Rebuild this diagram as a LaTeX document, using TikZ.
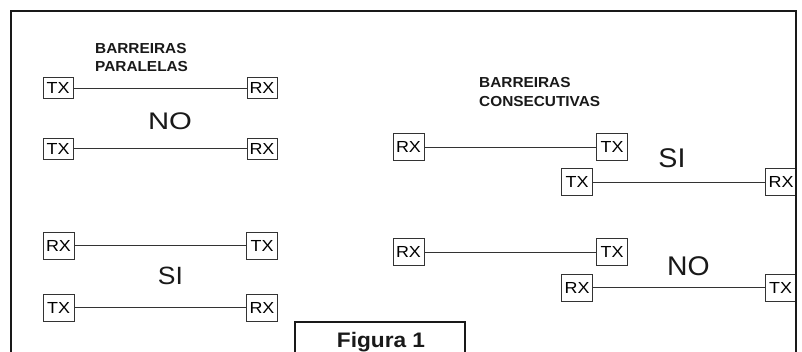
\documentclass[tikz,border=0pt]{standalone}
\usepackage{fontspec}
\setmainfont{Liberation Sans}
\usepackage{graphicx}
\newcommand{\widen}[2]{\scalebox{#1}[1]{#2}}
\begin{document}
\begin{tikzpicture}[x=1pt,y=-1pt,
  unit/.style={draw=black!80,line width=0.8pt,inner sep=0pt,minimum width=31pt,minimum height=27pt,
    font=\fontsize{16}{16}\selectfont,fill=white},
  unitsm/.style={unit,minimum width=30pt,minimum height=21pt},
  wire/.style={draw=black!80,line width=0.8pt},
  frame/.style={draw=black!90,line width=2.8pt},
  head/.style={anchor=base west,inner sep=0pt,font=\fontsize{14.5}{14.5}\selectfont\bfseries,text=black!90},
  verdict/.style={anchor=base,inner sep=0pt,text=black!90}]
\useasboundingbox (0,0) rectangle (802,351);
% frame
\coordinate (fbl) at (11,352);
\coordinate (ftl) at (11,11);
\coordinate (ftr) at (796,11);
\coordinate (fbr) at (796,352);
% headings
\node[head] (h1) at (95,53) {\widen{1.06}{BARREIRAS}};
\node[head] (h2) at (95,71) {\widen{1.06}{PARALELAS}};
\node[head] (h3) at (479,87) {\widen{1.06}{BARREIRAS}};
\node[head] (h4) at (479,106) {\widen{1.06}{CONSECUTIVAS}};
% top-left pair
\node[unitsm] (a1) at (58,88) {\widen{1.12}{TX}};
\node[unitsm] (a2) at (262,88) {\widen{1.12}{RX}};
\node[unitsm] (a3) at (58,148.5) {\widen{1.12}{TX}};
\node[unitsm] (a4) at (262,148.5) {\widen{1.12}{RX}};
\draw[wire] (a1) -- (a2);
\draw[wire] (a3) -- (a4);
\node[verdict,font=\fontsize{24}{24}\selectfont] (v1) at (170,129) {\widen{1.22}{NO}};
% bottom-left pair
\node[unit] (b1) at (58.5,245.5) {\widen{1.12}{RX}};
\node[unit] (b2) at (262,245.5) {\widen{1.12}{TX}};
\node[unit] (b3) at (58.5,307.5) {\widen{1.12}{TX}};
\node[unit] (b4) at (262,307.5) {\widen{1.12}{RX}};
\draw[wire] (b1) -- (b2);
\draw[wire] (b3) -- (b4);
\node[verdict,font=\fontsize{25}{25}\selectfont] (v2) at (170.5,284) {\widen{1.06}{SI}};
% top-right pair
\node[unit] (c1) at (408.5,147) {\widen{1.12}{RX}};
\node[unit] (c2) at (612,147) {\widen{1.12}{TX}};
\node[unit] (c3) at (577,182) {\widen{1.12}{TX}};
\node[unit] (c4) at (781,182) {\widen{1.12}{RX}};
\draw[wire] (c1) -- (c2);
\draw[wire] (c3) -- (c4);
\node[verdict,font=\fontsize{27}{27}\selectfont] (v3) at (672,167) {\widen{1.06}{SI}};
% bottom-right pair
\node[unit] (d1) at (408.5,252) {\widen{1.12}{RX}};
\node[unit] (d2) at (612,252) {\widen{1.12}{TX}};
\node[unit] (d3) at (577,287.5) {\widen{1.12}{RX}};
\node[unit] (d4) at (780.5,287.5) {\widen{1.12}{TX}};
\draw[wire] (d1) -- (d2);
\draw[wire] (d3) -- (d4);
\node[verdict,font=\fontsize{27}{27}\selectfont] (v4) at (688.5,275) {\widen{1.05}{NO}};
% outer frame (open at bottom)
\draw[frame] (fbl) -- (ftl) -- (ftr) -- (fbr);
% caption box
\coordinate (gbl) at (295,352);
\coordinate (gtl) at (295,322);
\coordinate (gtr) at (465,322);
\coordinate (gbr) at (465,352);
\draw[frame,line width=2.2pt] (gbl) -- (gtl) -- (gtr) -- (gbr);
\node[verdict,font=\fontsize{21}{21}\selectfont\bfseries] (cap) at (381,347) {\widen{1.08}{Figura 1}};
\end{tikzpicture}
\end{document}
